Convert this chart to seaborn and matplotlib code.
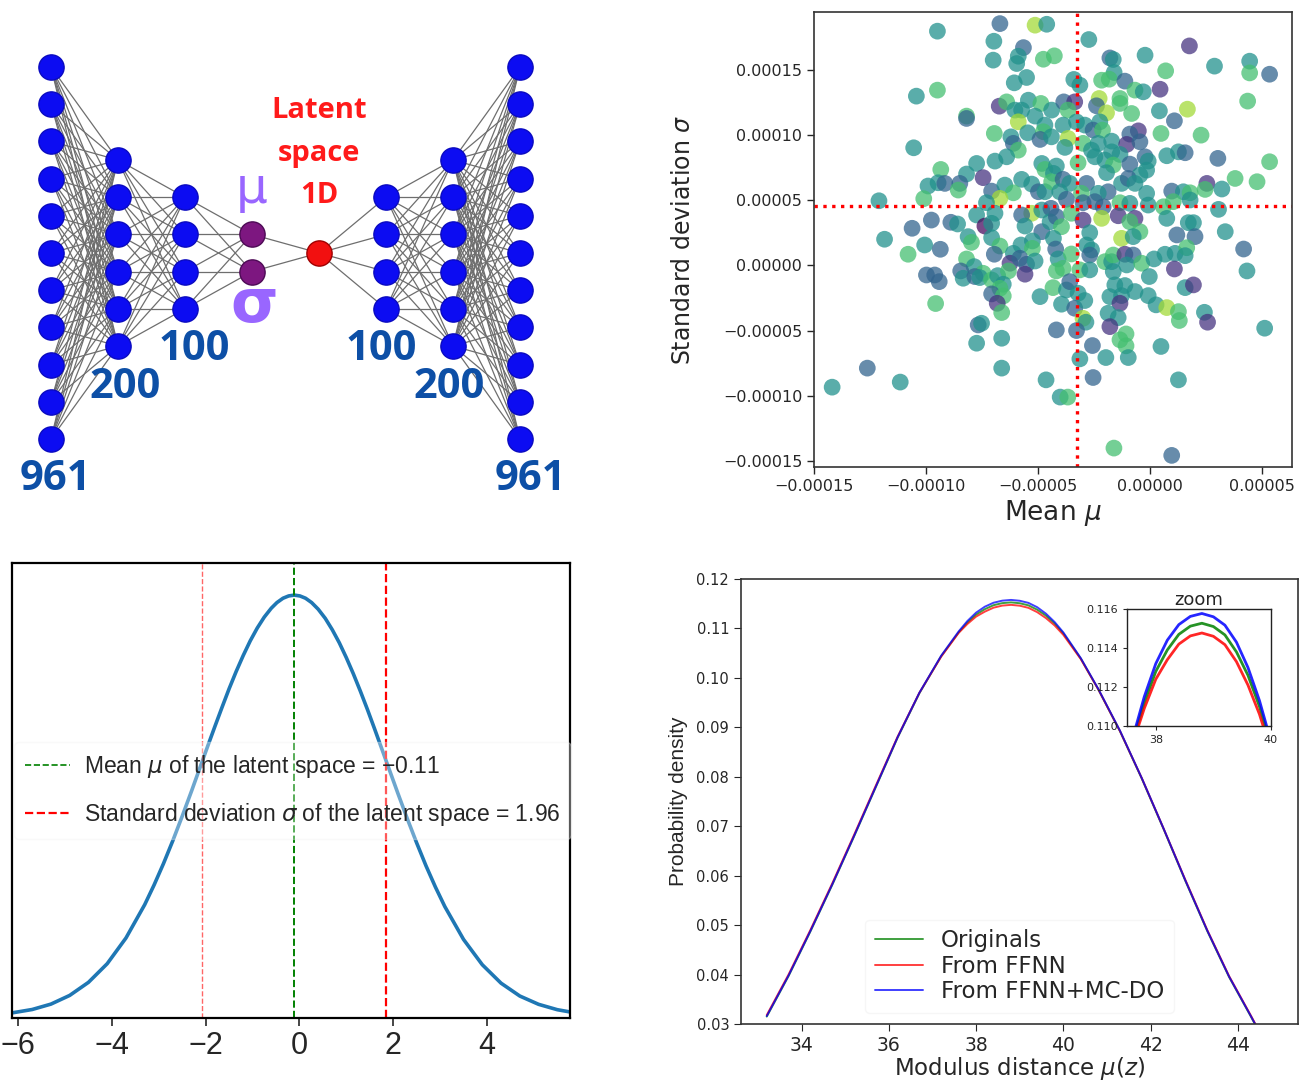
import numpy as np
import matplotlib
matplotlib.use("Agg")
import matplotlib.pyplot as plt
import seaborn as sns
from matplotlib.ticker import FuncFormatter
from matplotlib.lines import Line2D

# network: neurons drawn per layer (encoder -> latent -> decoder)
layer_sizes = [11, 6, 4, 2, 1, 4, 6, 11]
layer_labels = ["961", "200", "100", "", "", "100", "200", "961"]

# latent space scatter, values in units of 1e-5
mu_pts = [
    # upper left
    -6.70, -5.13, -4.61, -9.49, -6.97, -5.65, -5.88, -7.00, -5.95, -4.76,
    -4.27, -5.51, -6.06, -9.49, -10.43, -6.73, -6.40, -5.43, -4.87, -6.03,
    -5.73, -4.39, -8.19, -8.19, -5.88, -5.13, -4.69, -6.95, -5.46, -4.76,
    -6.21, -4.91, -6.10, -5.88, -10.55, -6.40, -6.92, -7.74, -4.83, -9.34,
    -8.19, -7.45, -5.73, -4.69, -4.31, -9.91, -9.46, -9.16, -8.49, -8.56,
    -7.07, -6.48, -6.10, -5.28, -4.98, -4.69, -4.39, -12.10, -10.10, -6.70,
    -7.30, -5.28, -5.73, -4.83, -4.42, -7.74, -6.92, -9.76, -10.62, -8.89,
    -8.59, -7.37, -7.07, -5.58, -4.83, -4.46, -11.85, -8.12,
    # upper right
    -2.73, 1.76, -1.79, -1.64, -0.22, 4.45, 2.88, 5.34, 4.45, 0.70,
    -1.60, -3.40, -2.16, -1.82, -1.12, -3.13, -0.67, -0.30, 0.45, -2.27,
    -1.34, -1.34, -3.85, -3.36, 4.36, -3.66, -2.39, -1.94, -0.82, 0.42,
    1.67, 1.09, -3.28, -2.91, -2.24, -3.88, -2.54, -2.12, -0.52, -0.90,
    0.49, 2.28, -4.40, -3.66, -2.99, -2.31, -1.71, -1.04, -0.45, -3.80,
    -2.61, -1.71, -1.34, -0.22, 0.75, 1.27, 1.57, 3.03, 5.34, -2.46,
    -2.01, -1.64, -0.90, -0.08, -4.18, -3.21, -0.15, -1.94, -0.45, 3.80,
    4.78, 2.54, 2.46, 3.21, -3.88, -3.58, -2.83, -1.27, -0.97, -0.67,
    -1.87, -2.31, -0.15, 0.97, 1.49, 1.79, -4.03, -3.06, -3.73, -2.99,
    -2.46, -2.09, -1.34, -0.90, -0.08, 0.60, 1.04, 1.79, 3.06, -4.18,
    -3.51, -2.99, -2.16, -1.42, -0.67, -0.90, 0.75, 1.71, 1.94, 3.36,
    -3.95, -2.69, -1.27, -0.45, 1.20, 2.01, -0.75,
    # lower left
    -10.06, -9.36, -10.80, -7.97, -7.07, -6.70, -6.10, -5.76, -5.25, -5.25,
    -4.31, -6.95, -6.25, -5.81, -5.51, -5.13, -8.19, -7.85, -7.45, -8.45,
    -8.34, -9.98, -9.61, -9.41, -7.82, -7.60, -7.07, -6.80, -6.32, -5.58,
    -6.55, -6.70, -7.07, -6.55, -4.91, -9.57, -6.82, -6.62, -7.67, -7.52,
    -6.62, -7.74, -12.62, -6.62, -14.19, -11.15, -4.64,
    # lower right
    -4.21, -4.10, -3.51, -2.83, -2.61, -2.69, -2.01, -1.71, -1.64, -1.12,
    -0.75, -1.04, -0.37, 0.18, 0.67, 1.12, 1.64, 1.57, 4.18, 4.33,
    1.09, -0.03, -4.18, -3.88, -3.13, -2.69, -1.64, -4.33, -3.73, -3.58,
    -3.21, -1.57, -1.12, -1.79, -0.67, -1.27, -0.08, 1.57, 1.94, -3.95,
    -3.36, -2.91, -1.34, 0.27, 0.75, 1.27, 1.31, 2.43, 2.57, -2.99,
    -2.86, -1.87, -1.42, -4.18, -3.28, -1.79, -1.07, -1.34, -1.07, -2.57,
    0.49, 5.12, -3.13, -1.97, -0.97, -2.54, 1.27, -4.01, -3.67, -1.61,
    0.97,
]
sigma_pts = [
    18.54, 18.42, 18.49, 17.96, 17.19, 16.70, 16.04, 15.74, 15.48, 15.81,
    16.07, 14.41, 14.00, 13.44, 12.98, 12.21, 12.54, 12.67, 12.42, 11.91,
    11.91, 11.91, 11.45, 11.27, 11.01, 11.45, 10.76, 10.12, 10.17, 10.25,
    9.86, 9.66, 9.36, 8.84, 9.02, 8.33, 8.00, 7.82, 7.82, 7.36,
    7.01, 6.73, 6.60, 7.36, 7.06, 6.09, 6.34, 6.29, 6.29, 5.78,
    5.70, 6.16, 5.57, 6.24, 5.65, 5.65, 6.42, 4.96, 5.12, 5.14,
    4.81, 4.00, 3.87, 4.25, 4.38, 3.87, 4.00, 3.48, 2.85, 3.31,
    3.18, 3.02, 3.23, 3.02, 2.59, 3.35, 2.01, 2.21,
    17.32, 16.83, 15.91, 15.79, 16.12, 15.66, 15.28, 14.66, 14.76, 14.92,
    14.79, 14.26, 14.20, 14.28, 14.13, 13.82, 13.44, 13.31, 13.51, 12.80,
    12.80, 12.42, 12.54, 12.54, 12.60, 11.91, 12.24, 11.70, 11.65, 11.85,
    11.98, 11.09, 11.01, 10.76, 11.01, 10.76, 10.38, 10.38, 10.32, 10.07,
    10.12, 9.99, 9.86, 9.74, 9.36, 9.36, 9.53, 9.28, 9.48, 9.05,
    8.84, 8.71, 8.51, 8.33, 8.41, 8.71, 8.64, 8.21, 7.95, 8.33,
    8.08, 7.70, 7.77, 8.00, 7.62, 7.87, 7.31, 7.11, 6.93, 6.67,
    6.42, 6.29, 5.83, 5.86, 6.60, 6.29, 6.29, 6.29, 6.67, 6.29,
    5.65, 5.53, 5.53, 5.70, 5.65, 5.57, 5.65, 5.53, 5.07, 4.81,
    4.89, 4.50, 4.81, 4.76, 4.63, 4.50, 4.89, 5.02, 4.30, 3.74,
    4.00, 3.48, 3.61, 3.81, 3.61, 3.35, 3.61, 3.28, 3.28, 2.59,
    2.97, 2.51, 2.08, 2.59, 2.34, 2.21, 2.21,
    1.57, 1.24, 0.86, 1.77, 2.13, 1.49, 0.93, 1.57, 1.88, 1.31,
    2.08, 0.86, 0.17, 0.55, 0.09, 0.34, 0.50, -0.09, -0.60, -0.42,
    -0.98, -0.73, -0.73, -1.24, -0.85, -0.93, -1.11, -0.78, -0.42, -0.67,
    -1.44, -1.75, -2.18, -2.34, -2.39, -2.92, -2.90, -3.61, -4.56, -4.43,
    -5.58, -5.96, -7.87, -7.87, -9.33, -8.94, -8.77,
    1.26, 0.50, 0.88, 1.57, 1.19, 0.80, 0.29, 0.29, 0.80, 0.86,
    0.80, 0.04, 0.17, 0.50, 0.86, 0.93, 1.36, 0.75, 1.26, -0.42,
    -0.27, -0.85, -0.42, -0.22, -0.34, -0.34, -0.47, -1.70, -1.88, -1.24,
    -2.13, -1.49, -1.54, -2.39, -2.00, -2.31, -2.31, -1.70, -1.49, -2.97,
    -3.28, -2.69, -2.90, -3.02, -3.23, -3.54, -4.22, -3.59, -4.35, -4.05,
    -4.35, -3.66, -4.00, -4.94, -4.99, -4.69, -5.25, -5.70, -6.16, -6.14,
    -6.21, -4.81, -7.16, -7.06, -7.06, -8.59, -8.77, -10.09, -10.09, -14.00,
    -14.56,
]
# colour class of every point (d/p purple ... y yellow)
tone = list(
    "bytttbtttg" "gttgtpgtgt" "ttgbyttgtg" "tbbgtttttg" "tptgtttbbg"
    "btgtbtgtgy" "tybtbttbbb" "tdttbttt"
    "tpbttttbgg" "ttggbtgtpy" "ggbpggbygt" "ybttttbgpb" "ggtygttpbt"
    "tttbttbbgt" "tgbttgtttg" "gpgtbtbtbt" "bttbtgtgbb" "bbgttggttb"
    "gpyppgtttt" "gtygbbt"
    "tbggtgtttg" "tbpbbtgtgb" "tbbbbtgtgp" "tgbgtgpgbt" "ttbtttt"
    "btgttbgtgp" "btgtttgtbt" "ptgggttgtb" "ttttttttpt" "btptyggtpy"
    "tttbbpgggb" "tttttbt" "tggb"
)
mean_mu = -3.24      # dotted red lines, 1e-5 units
mean_sigma = 4.58

# latent gaussian
z_latent = [-6.2, -5.7, -5.3, -4.9, -4.5, -4.1, -3.7, -3.3, -3.1, -2.9,
            -2.7, -2.5, -2.3, -2.1, -1.95, -1.8, -1.65, -1.5, -1.35, -1.2,
            -1.05, -0.9, -0.75, -0.6, -0.48, -0.35, -0.23, -0.11, 0.01, 0.13,
            0.26, 0.4, 0.55, 0.7, 0.85, 1.0, 1.15, 1.3, 1.45, 1.6,
            1.75, 1.9, 2.1, 2.3, 2.5, 2.7, 2.9, 3.1, 3.5, 3.9,
            4.3, 4.7, 5.1, 5.5, 5.8]
dens_latent = [0.0016, 0.0035, 0.0061, 0.0103, 0.0166, 0.0256, 0.0380, 0.0541, 0.0636, 0.0739,
               0.0850, 0.0968, 0.1090, 0.1216, 0.1310, 0.1403, 0.1494, 0.1583, 0.1666, 0.1743,
               0.1814, 0.1876, 0.1929, 0.1972, 0.1999, 0.2020, 0.2031, 0.2035, 0.2031, 0.2020,
               0.1999, 0.1967, 0.1923, 0.1868, 0.1805, 0.1733, 0.1655, 0.1571, 0.1483, 0.1391,
               0.1297, 0.1203, 0.1078, 0.0956, 0.0839, 0.0728, 0.0626, 0.0532, 0.0373, 0.0251,
               0.0162, 0.0100, 0.0060, 0.0034, 0.0022]
lat_mean = -0.11
lat_std = 1.96

# modulus distance densities
mod_x = [33.2, 33.7, 34.2, 34.7, 35.2, 35.7, 36.2, 36.7, 37.2, 37.6,
         37.8, 38.0, 38.2, 38.4, 38.6, 38.8, 39.0, 39.2, 39.4, 39.6,
         39.8, 40.0, 40.4, 40.8, 41.3, 41.8, 42.3, 42.8, 43.3, 43.8,
         44.3, 44.7]
dens_orig = [0.0315, 0.0397, 0.0487, 0.0581, 0.0679, 0.0779, 0.0879, 0.0969, 0.1044, 0.1092,
             0.1112, 0.1128, 0.1139, 0.1147, 0.11512, 0.11527, 0.11510, 0.11467, 0.1138, 0.1126,
             0.1110, 0.1090, 0.1039, 0.0977, 0.0892, 0.0796, 0.0694, 0.0589, 0.0488, 0.0395,
             0.0315, 0.0249]
dens_ffnn = [0.0318, 0.0400, 0.0490, 0.0584, 0.0682, 0.0782, 0.0881, 0.0970, 0.1043, 0.1091,
             0.1109, 0.1124, 0.1134, 0.1142, 0.11462, 0.11477, 0.11460, 0.11417, 0.1133, 0.1121,
             0.1106, 0.1087, 0.1038, 0.0977, 0.0892, 0.0797, 0.0695, 0.0591, 0.0490, 0.0397,
             0.0317, 0.0251]
dens_mcdo = [0.0316, 0.0398, 0.0488, 0.0582, 0.0680, 0.0780, 0.0880, 0.0970, 0.1045, 0.1094,
             0.1115, 0.1132, 0.1144, 0.1152, 0.11562, 0.11577, 0.11560, 0.11517, 0.1143, 0.1130,
             0.1113, 0.1092, 0.1040, 0.0978, 0.0893, 0.0797, 0.0695, 0.0590, 0.0489, 0.0396,
             0.0316, 0.0250]

sns.set_style("ticks")
plt.rcParams["font.family"] = ["DejaVu Sans"]
NARROW = ["Liberation Sans", "DejaVu Sans"]

W, H = 1309, 1080
fig = plt.figure(figsize=(W / 100, H / 100), dpi=100)


def box(l, t, r, b):
    return [l / W, 1 - b / H, (r - l) / W, (b - t) / H]


# ---------------- network sketch ----------------
ax0 = fig.add_axes(box(0, 0, 600, 520))
ax0.set_xlim(0, 600)
ax0.set_ylim(520, 0)
ax0.axis("off")
step_x, step_y, x_first, y_mid = 67, 37.2, 51, 253
node_face = ["#0c0cf2"] * 3 + ["#7d1780", "#f21010"] + ["#0c0cf2"] * 3
node_edge = ["#0a0ac0"] * 3 + ["#4d0a55", "#a00000"] + ["#0a0ac0"] * 3
label_dx = [4, 7, 9, 0, 0, -5, -4, 10]

layers = []
for k, n in enumerate(layer_sizes):
    ys = y_mid + (np.arange(n) - (n - 1) / 2) * step_y
    layers.append((np.full(n, x_first + k * step_x), ys))

for (xa, ya), (xb, yb) in zip(layers[:-1], layers[1:]):
    for i in range(len(ya)):
        for j in range(len(yb)):
            ax0.plot([xa[i], xb[j]], [ya[i], yb[j]], color="#6e6e6e", lw=0.9, zorder=1)

for k, (xs, ys) in enumerate(layers):
    ax0.scatter(xs, ys, s=330, color=node_face[k], edgecolor=node_edge[k], lw=1, zorder=3)
    if layer_labels[k]:
        ax0.text(xs[0] + label_dx[k], ys.max() + 41, layer_labels[k], ha="center", va="center",
                 fontsize=30, fontweight="bold", color="#0d4fa6", family="Open Sans")

xs_mid = layers[3][0][0]
ax0.text(xs_mid, layers[3][1].min() - 45, "\u03bc", ha="center", va="center",
         fontsize=36, color="#9966ff", family="DejaVu Sans")
ax0.text(xs_mid + 2, layers[3][1].max() + 34, "\u03c3", ha="center", va="center",
         fontsize=44, fontweight="bold", color="#9966ff", family="DejaVu Sans")
ax0.text(layers[4][0][0], 153, "Latent\nspace\n1D", ha="center", va="center",
         fontsize=21, fontweight="bold", color="#ff1a1a", family="Open Sans", linespacing=1.62)

# ---------------- latent scatter ----------------
tone_val = {"d": 0.03, "p": 0.15, "b": 0.32, "t": 0.5, "g": 0.7, "y": 0.86}
ax1 = fig.add_axes(box(814, 12, 1292, 467))
sns.scatterplot(x=np.array(mu_pts) * 1e-5, y=np.array(sigma_pts) * 1e-5,
                hue=[tone_val[c] for c in tone], palette="viridis", hue_norm=(0, 1),
                s=145, alpha=0.74, edgecolor="none", legend=False, ax=ax1)
ax1.axvline(mean_mu * 1e-5, color="red", ls=":", lw=2.4)
ax1.axhline(mean_sigma * 1e-5, color="red", ls=":", lw=2.4)
ax1.set_xlim(-0.00015, 0.0000634)
ax1.set_ylim(-0.0001545, 0.0001943)
ax1.set_xticks([-0.00015, -0.0001, -0.00005, 0, 0.00005])
ax1.set_yticks([-0.00015, -0.0001, -0.00005, 0, 0.00005, 0.0001, 0.00015])


def fmt5(v, pos):
    s = "%.5f" % (0.0 if abs(v) < 1e-12 else v)
    return s.replace("-", "\u2212")


ax1.xaxis.set_major_formatter(FuncFormatter(fmt5))
ax1.yaxis.set_major_formatter(FuncFormatter(fmt5))
ax1.tick_params(labelsize=11.5, length=5, width=1)
ax1.set_xlabel("Mean $\\mu$", fontsize=19, labelpad=3)
ax1.set_ylabel("Standard deviation $\\sigma$", fontsize=17, labelpad=20)
for sp in ax1.spines.values():
    sp.set_linewidth(1.2)
    sp.set_color("#333333")

# ---------------- latent gaussian ----------------
ax2 = fig.add_axes(box(12, 563, 570, 1018))
sns.lineplot(x=z_latent, y=dens_latent, color="#1f77b4", lw=2.6, ax=ax2)
ax2.axvline(lat_mean - lat_std, color="red", ls="--", lw=1.0, alpha=0.6)
ax2.axvline(lat_mean, color="green", ls="--", lw=1.4)
ax2.axvline(lat_mean + lat_std, color="red", ls="--", lw=1.6)
ax2.set_xlim(-6.13, 5.77)
ax2.set_ylim(-0.0006, 0.219)
ax2.set_yticks([])
ax2.set_xticks([-6, -4, -2, 0, 2, 4])
ax2.set_xticklabels(["\u22126", "\u22124", "\u22122", "0", "2", "4"], family=NARROW, fontsize=22)
ax2.tick_params(axis="x", length=6, width=1.2)
for sp in ax2.spines.values():
    sp.set_linewidth(1.6)
    sp.set_color("black")
h_lat = [Line2D([], [], color="green", ls="--", lw=1.2),
         Line2D([], [], color="red", ls="--", lw=1.6)]
ax2.legend(h_lat, ["Mean $\\mu$ of the latent space = \u22120.11",
                   "Standard deviation $\\sigma$ of the latent space = 1.96"],
           loc="center left", bbox_to_anchor=(0.0, 0.5), prop={"family": NARROW, "size": 16.5},
           handlelength=2.0, handletextpad=0.6, labelspacing=0.95, framealpha=0.35,
           edgecolor="#eeeeee", borderaxespad=0.1, borderpad=0.45)

# ---------------- modulus distance ----------------
ax3 = fig.add_axes(box(741, 579, 1298, 1024))
curves = [("Originals", dens_orig, "green"), ("From FFNN", dens_ffnn, "red"),
          ("From FFNN+MC-DO", dens_mcdo, "blue")]
for name, dens, col in curves:
    sns.lineplot(x=mod_x, y=dens, color=col, lw=1.4, alpha=0.75, label=name, ax=ax3)
ax3.set_xlim(32.61, 45.38)
ax3.set_ylim(0.03, 0.12)
ax3.set_xticks([34, 36, 38, 40, 42, 44])
ax3.set_yticks([0.03, 0.04, 0.05, 0.06, 0.07, 0.08, 0.09, 0.10, 0.11, 0.12])
ax3.yaxis.set_major_formatter(FuncFormatter(lambda v, p: "%.2f" % v))
ax3.tick_params(axis="x", labelsize=13.5, length=5)
ax3.tick_params(axis="y", labelsize=10.5, length=5)
ax3.set_xlabel("Modulus distance $\\mu(z)$", fontsize=16.5, labelpad=0)
ax3.set_ylabel("Probability density", fontsize=15, family=NARROW, labelpad=6)
for sp in ax3.spines.values():
    sp.set_linewidth(1.2)
    sp.set_color("#333333")
ax3.legend(loc="lower center", bbox_to_anchor=(0.5, 0.0), fontsize=16.5, handlelength=2.1,
           framealpha=0.5, edgecolor="#eeeeee", labelspacing=0.12)

ax4 = fig.add_axes(box(1127, 609, 1271, 726))
for name, dens, col in curves:
    sns.lineplot(x=mod_x, y=dens, color=col, lw=2, alpha=0.85, ax=ax4)
ax4.set_xlim(37.5, 40)
ax4.set_ylim(0.110, 0.116)
ax4.set_xticks([38, 40])
ax4.set_yticks([0.110, 0.112, 0.114, 0.116])
ax4.yaxis.set_major_formatter(FuncFormatter(lambda v, p: "%.3f" % v))
ax4.tick_params(labelsize=8, length=3)
ax4.set_title("zoom", fontsize=13, pad=3)
for sp in ax4.spines.values():
    sp.set_linewidth(1.0)
    sp.set_color("#222222")

fig.savefig("out.png", dpi=100)
